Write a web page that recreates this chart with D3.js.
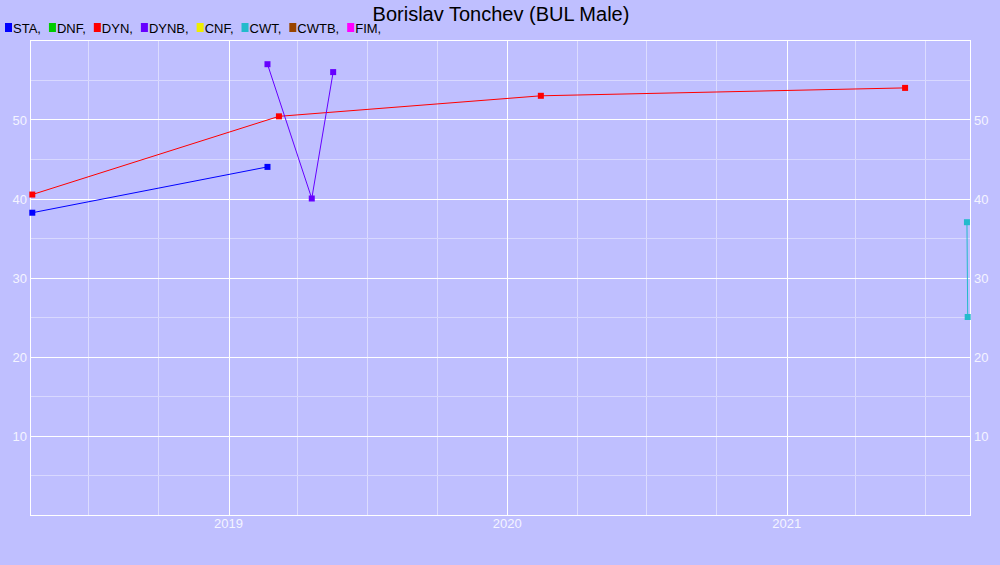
<!DOCTYPE html>
<html><head><meta charset="utf-8">
<script src="https://cdn.jsdelivr.net/npm/d3@7"></script>
<style>html,body{margin:0;padding:0;background:#bfbfff;}svg{display:block;}</style>
</head><body>
<svg id="c" width="1000" height="565"></svg>
<script>
const title = "Borislav Tonchev (BUL Male)";
const legendNames = ["STA","DNF","DYN","DYNB","CNF","CWT","CWTB","FIM"];
const legendColors = ["#0000ff","#00cc00","#ff0000","#6600ff","#eeee00","#22bbcc","#994400","#ff00ff"];
const yTicks = [10,20,30,40,50];
const xTickLabels = ["2019","2020","2021"];
const staDates = ["2018-04-19","2019-02-21"];
const staValues = [38.2,44.0];
const dynDates = ["2018-04-19","2019-03-08","2020-02-14","2021-06-05"];
const dynValues = [40.5,50.4,53.0,54.0];
const dynbDates = ["2019-02-21","2019-04-20","2019-05-18"];
const dynbValues = [57.0,40.0,56.0];
const cwtDates = ["2021-08-25","2021-08-26"];
const cwtValues = [37,25];

const series = [
  {name:"STA", dates:staDates, values:staValues},
  {name:"DYN", dates:dynDates, values:dynValues},
  {name:"DYNB", dates:dynbDates, values:dynbValues},
  {name:"CWT", dates:cwtDates, values:cwtValues}
];
const colorOf = n => legendColors[legendNames.indexOf(n)];
const parse = d3.timeParse("%Y-%m-%d");

const svg = d3.select("#c");
const L=30, R=970, T=40, B=515;
const x = d3.scaleTime().domain([parse("2018-04-16"), parse("2021-08-29")]).range([L,R]);
const y = d3.scaleLinear().domain([0,60]).range([514.5,40.5]);

svg.append("rect").attr("width",1000).attr("height",565).attr("fill","#bfbfff");

// minor grid
const g = svg.append("g");
const minorX = d3.timeMonth.every(3).range(x.domain()[0], x.domain()[1]).filter(d=>d.getMonth()!==0);
g.selectAll(".mx").data(minorX).join("line")
  .attr("x1",d=>Math.round(x(d))+0.5).attr("x2",d=>Math.round(x(d))+0.5)
  .attr("y1",T).attr("y2",B).attr("stroke","#dcdcff").attr("stroke-width",1);
const minorY = [5,15,25,35,45,55];
g.selectAll(".my").data(minorY).join("line")
  .attr("x1",L).attr("x2",R)
  .attr("y1",d=>Math.round(y(d))+0.5).attr("y2",d=>Math.round(y(d))+0.5)
  .attr("stroke","#d8d8ff").attr("stroke-width",1);
// major grid
const majorX = xTickLabels.map(s=>parse(s+"-01-01"));
g.selectAll(".Mx").data(majorX).join("line")
  .attr("x1",d=>Math.round(x(d))+0.5).attr("x2",d=>Math.round(x(d))+0.5)
  .attr("y1",T).attr("y2",B).attr("stroke","#ffffff").attr("stroke-width",1);
g.selectAll(".My").data(yTicks).join("line")
  .attr("x1",L).attr("x2",R)
  .attr("y1",d=>Math.round(y(d))+0.5).attr("y2",d=>Math.round(y(d))+0.5)
  .attr("stroke","#ffffff").attr("stroke-width",1);
// border
svg.append("rect").attr("x",L+0.5).attr("y",T+0.5).attr("width",R-L).attr("height",B-T)
  .attr("fill","none").attr("stroke","#ffffff").attr("stroke-width",1);

// axis labels
const lab = svg.append("g").attr("font-family","Liberation Sans, Arial, sans-serif").attr("font-size",13).attr("fill","#f4f4ff");
lab.selectAll(".yl").data(yTicks).join("text").attr("x",27).attr("y",d=>y(d)+5).attr("text-anchor","end").text(d=>d);
lab.selectAll(".yr").data(yTicks).join("text").attr("x",974).attr("y",d=>y(d)+5).attr("text-anchor","start").text(d=>d);
lab.selectAll(".xl").data(majorX).join("text").attr("x",d=>x(d)).attr("y",528).attr("text-anchor","middle").text((d,i)=>xTickLabels[i]);

// series
const line = d3.line().x(d=>x(d.date)).y(d=>y(d.value));
series.forEach(s=>{
  const pts = s.dates.map((d,i)=>({date:parse(d), value:s.values[i]}));
  const c = colorOf(s.name);
  svg.append("path").datum(pts).attr("d",line).attr("fill","none").attr("stroke",c).attr("stroke-width",1);
  svg.selectAll(null).data(pts).join("rect")
    .attr("x",d=>x(d.date)-3).attr("y",d=>y(d.value)-3).attr("width",6).attr("height",6).attr("fill",c);
});

// title
svg.append("text").attr("x",501).attr("y",21).attr("text-anchor","middle")
  .attr("font-family","Liberation Sans, Arial, sans-serif").attr("font-size",20).attr("fill","#000").text(title);

// legend
const lg = svg.append("g").attr("font-family","Liberation Sans, Arial, sans-serif").attr("font-size",13);
let cx = 5;
legendNames.forEach((n,i)=>{
  lg.append("rect").attr("x",cx).attr("y",23).attr("width",7).attr("height",9).attr("fill",legendColors[i]);
  const t = lg.append("text").attr("x",cx+8).attr("y",33).attr("fill","#000").text(n+",");
  cx += 8 + t.node().getComputedTextLength() + 8;
});
</script>
</body></html>
